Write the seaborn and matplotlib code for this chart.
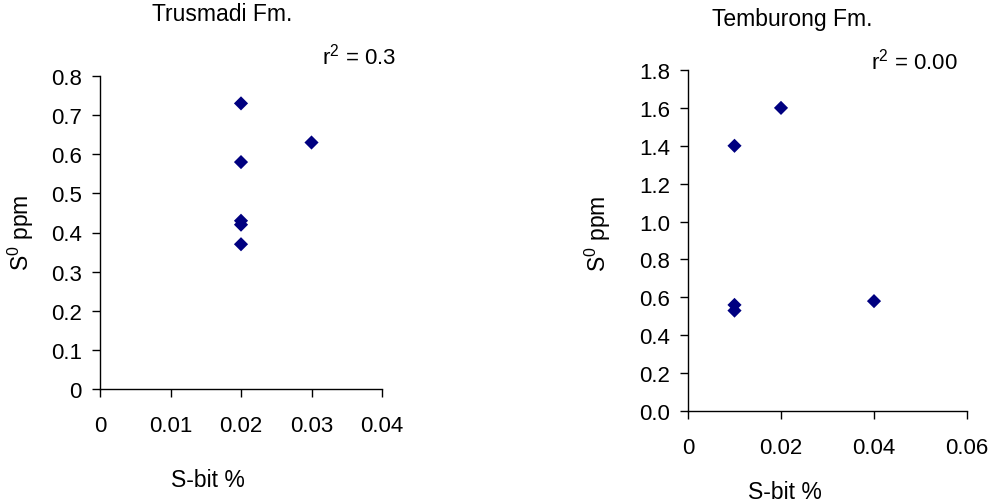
import matplotlib
matplotlib.use("Agg")
import matplotlib.pyplot as plt
import seaborn as sns
import pandas as pd

# ---- data ----
trus_sbit = [0.02, 0.02, 0.02, 0.02, 0.02, 0.03]
trus_s0 = [0.73, 0.58, 0.43, 0.42, 0.37, 0.63]
temb_sbit = [0.01, 0.01, 0.01, 0.02, 0.04]
temb_s0 = [1.40, 0.56, 0.53, 1.60, 0.58]

trus_xticks = [0, 0.01, 0.02, 0.03, 0.04]
trus_xlabels = ["0", "0.01", "0.02", "0.03", "0.04"]
trus_yticks = [0, 0.1, 0.2, 0.3, 0.4, 0.5, 0.6, 0.7, 0.8]
trus_ylabels = ["0", "0.1", "0.2", "0.3", "0.4", "0.5", "0.6", "0.7", "0.8"]
temb_xticks = [0, 0.02, 0.04, 0.06]
temb_xlabels = ["0", "0.02", "0.04", "0.06"]
temb_yticks = [0, 0.2, 0.4, 0.6, 0.8, 1.0, 1.2, 1.4, 1.6, 1.8]
temb_ylabels = ["0.0", "0.2", "0.4", "0.6", "0.8", "1.0", "1.2", "1.4", "1.6", "1.8"]

titles = ["Trusmadi Fm.", "Temburong Fm."]
r2_texts = ["r$^2$ = 0.3", "r$^2$ = 0.00"]

sns.set_theme(style="white")
plt.rcParams['font.family'] = ['Liberation Sans', 'DejaVu Sans']
plt.rcParams['mathtext.default'] = 'regular'

fig = plt.figure(figsize=(9.91, 5.02), dpi=100)
W, H = 991, 502

def axes_px(x0, x1, y0, y1):
    return fig.add_axes([x0 / W, 1 - y1 / H, (x1 - x0) / W, (y1 - y0) / H])

ax1 = axes_px(100, 382, 77, 390)
ax2 = axes_px(688, 967, 71, 412)

navy = "#000080"
TICK_FS = 16
LAB_FS = 16.5
R2_FS = 16

def style(ax, xt, xl, yt, yl, xmax, ymax):
    ax.set_xlim(0, xmax)
    ax.set_ylim(0, ymax)
    ax.set_xticks(xt)
    ax.set_xticklabels(xl)
    ax.set_yticks(yt)
    ax.set_yticklabels(yl)
    for s in ["top", "right"]:
        ax.spines[s].set_visible(False)
    for s in ["left", "bottom"]:
        ax.spines[s].set_color("black")
        ax.spines[s].set_linewidth(1.0)
    ax.tick_params(axis="both", direction="out", length=6, width=1.0,
                   color="black", labelcolor="black", labelsize=TICK_FS)
    ax.tick_params(axis="x", pad=13, bottom=True)
    ax.tick_params(axis="y", pad=7, left=True)
    ax.set_facecolor("white")
    ax.grid(False)

df1 = pd.DataFrame({"x": trus_sbit, "y": trus_s0})
df2 = pd.DataFrame({"x": temb_sbit, "y": temb_s0})
sns.scatterplot(data=df1, x="x", y="y", ax=ax1, marker="D", color=navy,
                s=52, edgecolor="none", clip_on=False, zorder=3)
sns.scatterplot(data=df2, x="x", y="y", ax=ax2, marker="D", color=navy,
                s=52, edgecolor="none", clip_on=False, zorder=3)

style(ax1, trus_xticks, trus_xlabels, trus_yticks, trus_ylabels, 0.04, 0.8)
style(ax2, temb_xticks, temb_xlabels, temb_yticks, temb_ylabels, 0.06, 1.8)

# labels
ax1.set_xlabel("S-bit %", fontsize=LAB_FS, color="black")
ax1.xaxis.set_label_coords(0.383, -0.288)
ax1.xaxis.label.set_va("center")
ax1.set_ylabel("S$^0$ ppm", fontsize=LAB_FS, color="black")
ax1.yaxis.set_label_coords(-0.280, 0.502)
ax1.yaxis.label.set_va("center")

ax2.set_xlabel("S-bit %", fontsize=LAB_FS, color="black")
ax2.xaxis.set_label_coords(0.348, -0.235)
ax2.xaxis.label.set_va("center")
ax2.set_ylabel("S$^0$ ppm", fontsize=LAB_FS, color="black")
ax2.yaxis.set_label_coords(-0.323, 0.522)
ax2.yaxis.label.set_va("center")

ax1.set_title(titles[0], fontsize=LAB_FS, color="black", x=0.433, y=1.173, va="center")
ax2.set_title(titles[1], fontsize=LAB_FS, color="black", x=0.373, y=1.126, va="center")

ax1.text(0.918, 1.064, r2_texts[0], transform=ax1.transAxes, ha="center",
         va="center", fontsize=R2_FS, color="black")
ax2.text(0.810, 1.029, r2_texts[1], transform=ax2.transAxes, ha="center",
         va="center", fontsize=R2_FS, color="black")

fig.savefig("out.png", dpi=100, facecolor="white")
